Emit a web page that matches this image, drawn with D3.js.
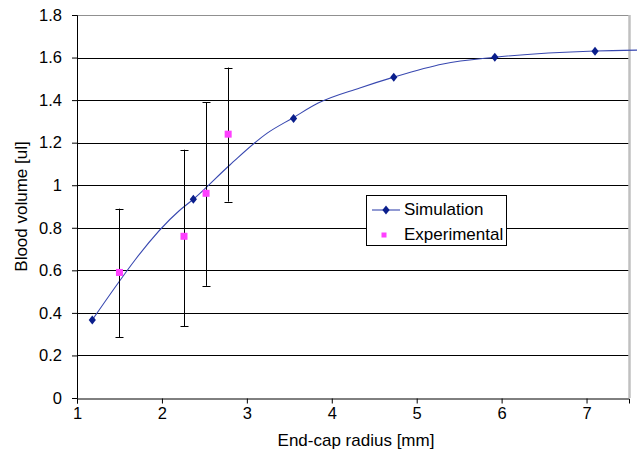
<!DOCTYPE html>
<html>
<head>
<meta charset="utf-8">
<script src="https://cdn.jsdelivr.net/npm/d3@7"></script>
<style>
  body { margin: 0; background: #fff; }
  text { font-family: "Liberation Sans", Arial, sans-serif; }
</style>
</head>
<body>
<div id="chart"></div>
<script>
const W = 637, H = 462;
const margin = { top: 15, right: 8, bottom: 64, left: 77 };
const tickFont = "16.5px";
const titleFont = "17px";

// simulation markers
const simX = [1.18, 2.37, 3.55, 4.73, 5.92, 7.10];
const simY = [0.367, 0.934, 1.314, 1.508, 1.601, 1.630];

// simulation curve (drawn without markers between)
const curveX = [1.18, 2.20, 2.37, 2.80, 3.24, 3.54, 3.84, 4.33, 4.73, 5.31, 5.91, 7.10, 7.60];
const curveY = [0.367, 0.879, 0.934, 1.095, 1.245, 1.316, 1.386, 1.457, 1.508, 1.570, 1.601, 1.631, 1.635];

// experimental points with error bars
const expX = [1.50, 2.26, 2.52, 2.78];
const expY = [0.590, 0.760, 0.962, 1.240];
const expLo = [0.286, 0.338, 0.527, 0.923];
const expHi = [0.890, 1.167, 1.390, 1.553];

const xTicks = [1, 2, 3, 4, 5, 6, 7];
const yTicks = [0, 0.2, 0.4, 0.6, 0.8, 1, 1.2, 1.4, 1.6, 1.8];

const svg = d3.select("#chart").append("svg")
    .attr("width", W)
    .attr("height", H);

const x = d3.scaleLinear().domain([1, 7.5]).range([margin.left, W - margin.right]);
const y = d3.scaleLinear().domain([0, 1.8]).range([H - margin.bottom, margin.top]);

const px = v => Math.round(v) + 0.5;

// gridlines
svg.append("g")
    .selectAll("line")
    .data(yTicks.filter(d => d > 0 && d < 1.8))
    .join("line")
    .attr("x1", x(1))
    .attr("x2", x(7.5))
    .attr("y1", d => px(y(d)))
    .attr("y2", d => px(y(d)))
    .attr("stroke", "#000")
    .attr("stroke-width", 1);

// plot border (top / right)
svg.append("line")
    .attr("x1", x(1)).attr("x2", x(7.5))
    .attr("y1", px(y(1.8))).attr("y2", px(y(1.8)))
    .attr("stroke", "#909090");
svg.append("line")
    .attr("x1", x(7.5) + 0.5).attr("x2", x(7.5) + 0.5)
    .attr("y1", y(1.8)).attr("y2", y(0))
    .attr("stroke", "#c0c0c0")
    .attr("stroke-width", 2.5);

// axes
const xAxis = svg.append("g")
    .attr("transform", `translate(0,${px(y(0))})`)
    .call(d3.axisBottom(x).tickValues(xTicks).tickSize(5).tickPadding(4).tickFormat(d3.format("d")));
const yAxis = svg.append("g")
    .attr("transform", `translate(${px(x(1)) - 0.5},0)`)
    .call(d3.axisLeft(y).tickValues(yTicks).tickSize(5).tickPadding(10).tickFormat(d => String(+d.toFixed(1))));

[xAxis, yAxis].forEach(a => {
    a.select(".domain").attr("stroke", "#000");
    a.selectAll(".tick line").attr("stroke", "#000");
    a.selectAll(".tick text")
        .attr("fill", "#000")
        .style("font-size", tickFont)
        .style("font-family", "Liberation Sans, Arial, sans-serif");
});

// simulation line
const curveData = curveX.map((d, i) => ({ x: d, y: curveY[i] }));
const line = d3.line()
    .x(d => x(d.x))
    .y(d => y(d.y))
    .curve(d3.curveMonotoneX);

svg.append("path")
    .datum(curveData)
    .attr("fill", "none")
    .attr("stroke", "#3848b0")
    .attr("stroke-width", 1.1)
    .attr("d", line);

// simulation markers (diamonds)
const diamond = "M0,-4.5L3.6,0L0,4.5L-3.6,0Z";
svg.append("g")
    .selectAll("path")
    .data(simX.map((d, i) => ({ x: d, y: simY[i] })))
    .join("path")
    .attr("d", diamond)
    .attr("transform", d => `translate(${x(d.x)},${y(d.y)})`)
    .attr("fill", "#0a1e8c");

// error bars
const expData = expX.map((d, i) => ({ x: d, y: expY[i], lo: expLo[i], hi: expHi[i] }));
const eb = svg.append("g").attr("stroke", "#000").attr("stroke-width", 1);
eb.selectAll(".stem")
    .data(expData)
    .join("line")
    .attr("class", "stem")
    .attr("x1", d => px(x(d.x))).attr("x2", d => px(x(d.x)))
    .attr("y1", d => y(d.lo)).attr("y2", d => y(d.hi));
eb.selectAll(".capTop")
    .data(expData)
    .join("line")
    .attr("class", "capTop")
    .attr("x1", d => px(x(d.x)) - 4).attr("x2", d => px(x(d.x)) + 4)
    .attr("y1", d => px(y(d.hi))).attr("y2", d => px(y(d.hi)));
eb.selectAll(".capBot")
    .data(expData)
    .join("line")
    .attr("class", "capBot")
    .attr("x1", d => px(x(d.x)) - 4).attr("x2", d => px(x(d.x)) + 4)
    .attr("y1", d => px(y(d.lo))).attr("y2", d => px(y(d.lo)));

// experimental squares
svg.append("g")
    .selectAll("rect")
    .data(expData)
    .join("rect")
    .attr("x", d => x(d.x) - 3.5)
    .attr("y", d => y(d.y) - 3.5)
    .attr("width", 7)
    .attr("height", 7)
    .attr("fill", "#ff40ff");

// axis titles
svg.append("text")
    .attr("x", 356)
    .attr("y", 446)
    .attr("text-anchor", "middle")
    .style("font-size", titleFont)
    .text("End-cap radius [mm]");

svg.append("text")
    .attr("transform", `translate(27,${(y(0) + y(1.8)) / 2}) rotate(-90)`)
    .attr("text-anchor", "middle")
    .style("font-size", titleFont)
    .text("Blood volume [ul]");

// legend
const lg = svg.append("g").attr("transform", "translate(366,195)");
lg.append("rect")
    .attr("x", 0.5).attr("y", 0.5)
    .attr("width", 140).attr("height", 50)
    .attr("fill", "#fff")
    .attr("stroke", "#000");
lg.append("line")
    .attr("x1", 6).attr("x2", 34)
    .attr("y1", 15).attr("y2", 15)
    .attr("stroke", "#3848b0").attr("stroke-width", 1.1);
lg.append("path")
    .attr("d", diamond)
    .attr("transform", "translate(20,15)")
    .attr("fill", "#0a1e8c");
lg.append("rect")
    .attr("x", 15.5).attr("y", 37.5)
    .attr("width", 5).attr("height", 5)
    .attr("fill", "#ff40ff");
lg.append("text")
    .attr("x", 38).attr("y", 19.5)
    .style("font-size", titleFont)
    .text("Simulation");
lg.append("text")
    .attr("x", 38).attr("y", 45)
    .style("font-size", titleFont)
    .text("Experimental");
</script>
</body>
</html>
